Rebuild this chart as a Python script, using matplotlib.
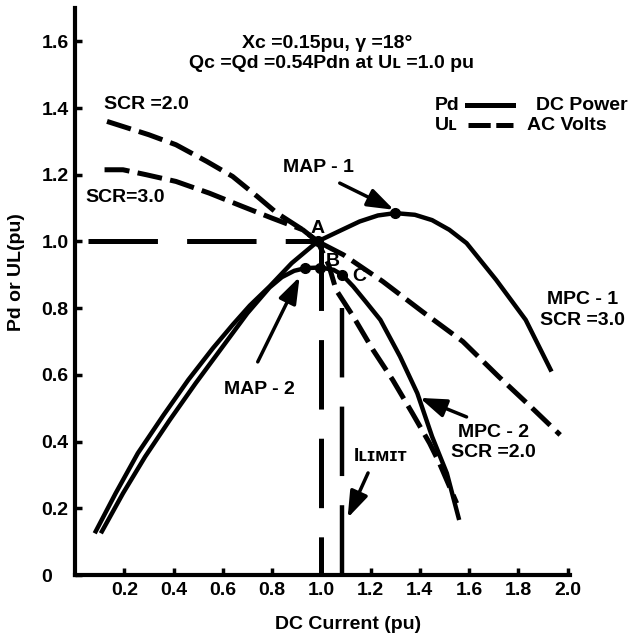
import numpy as np
import matplotlib.pyplot as plt

plt.rcParams['font.family'] = ['Liberation Sans', 'DejaVu Sans']
plt.rcParams['font.weight'] = 'bold'
plt.rcParams['lines.scale_dashes'] = False

'''
DATI LETTI DAL GRAFICO
'''
# DC power Pd, SCR = 3.0 (MPC-1)
pd3_x = [0.08, 0.165, 0.255, 0.36, 0.46, 0.56, 0.64, 0.71, 0.79, 0.88, 0.985,
         1.07, 1.156, 1.23, 1.30, 1.38, 1.45, 1.52, 1.59, 1.71, 1.83, 1.935]
pd3_y = [0.125, 0.245, 0.365, 0.48, 0.585, 0.68, 0.75, 0.808, 0.865, 0.935, 1.0,
         1.03, 1.06, 1.078, 1.085, 1.08, 1.064, 1.035, 0.995, 0.885, 0.765, 0.61]

# DC power Pd, SCR = 2.0 (MPC-2)
pd2_x = [0.105, 0.195, 0.285, 0.385, 0.49, 0.59, 0.70, 0.79, 0.84, 0.89, 0.935,
         0.995, 1.05, 1.085, 1.13, 1.18, 1.24, 1.32, 1.39, 1.45, 1.51, 1.56]
pd2_y = [0.125, 0.245, 0.355, 0.465, 0.575, 0.675, 0.785, 0.862, 0.893, 0.912, 0.92,
         0.922, 0.915, 0.90, 0.865, 0.82, 0.765, 0.655, 0.545, 0.415, 0.305, 0.165]

# AC volts UL, SCR = 2.0
ul2_x = [0.13, 0.30, 0.41, 0.535, 0.64, 0.74, 0.82, 0.925, 0.985,
         1.03, 1.06, 1.13, 1.21, 1.29, 1.37, 1.44, 1.48, 1.55]
ul2_y = [1.36, 1.32, 1.29, 1.24, 1.195, 1.135, 1.085, 1.035, 1.0,
         0.93, 0.855, 0.775, 0.675, 0.585, 0.485, 0.395, 0.335, 0.215]

# AC volts UL, SCR = 3.0
ul3_x = [0.12, 0.195, 0.29, 0.41, 0.545, 0.68, 0.80, 0.925, 0.985,
         1.09, 1.25, 1.41, 1.575, 1.72, 1.85, 1.97]
ul3_y = [1.215, 1.215, 1.20, 1.18, 1.145, 1.105, 1.07, 1.035, 1.0,
         0.96, 0.88, 0.79, 0.70, 0.595, 0.505, 0.42]

# punti di lavoro: MAP-1, A, MAP-2, B, C
pt_x = [1.30, 0.985, 0.935, 0.995, 1.085]
pt_y = [1.085, 1.0, 0.92, 0.92, 0.90]

# riferimenti Id = 1.0 pu, UL = 1.0 pu e limite di corrente
ref_h_x = [0.053, 0.985]
ref_h_y = [1.0, 1.0]
ref_v_x = [1.0, 1.0]
ref_v_y = [1.0, 0.0]
ilim_x = [1.085, 1.085]
ilim_y = [0.80, 0.0]

xticks = [0.2, 0.4, 0.6, 0.8, 1.0, 1.2, 1.4, 1.6, 1.8, 2.0]
yticks = [0, 0.2, 0.4, 0.6, 0.8, 1.0, 1.2, 1.4, 1.6]

FS = 14
SHORT = (18, 6)
LONG = (50, 21)

'''
GRAFICO
'''
fig = plt.figure(figsize=(6.32, 6.4), dpi=100)
ax = fig.add_axes([75 / 632, 65 / 640, 495 / 632, 567 / 640])

ax.plot(pd3_x, pd3_y, color='k', lw=3.2, solid_capstyle='butt')
ax.plot(pd2_x, pd2_y, color='k', lw=3.2, solid_capstyle='butt')
ax.plot(ul2_x, ul2_y, color='k', lw=3.6, dashes=SHORT)
ax.plot(ul3_x, ul3_y, color='k', lw=3.6, dashes=SHORT)
ax.plot(ref_h_x, ref_h_y, color='k', lw=3.6, dashes=LONG)
ax.plot(ref_v_x, ref_v_y, color='k', lw=3.6, dashes=LONG)
ax.plot(ilim_x, ilim_y, color='k', lw=3.2, dashes=LONG)
ax.plot(pt_x, pt_y, 'o', color='k', ms=7)

ax.set_xlim(0, 2.01)
ax.set_ylim(0, 1.70)
for s in ['top', 'right']:
    ax.spines[s].set_visible(False)
for s in ['left', 'bottom']:
    ax.spines[s].set_linewidth(3)

ax.set_xticks(xticks)
ax.set_xticklabels(['%.1f' % v for v in xticks])
ax.set_yticks(yticks)
ax.set_yticklabels(['0'] + ['%.1f' % v for v in yticks[1:]])
ax.tick_params(direction='in', length=5, width=2.5, labelsize=FS)
ax.tick_params(axis='x', pad=5)
ax.tick_params(axis='y', pad=24)
for lab in ax.get_yticklabels():
    lab.set_horizontalalignment('left')

ax.set_xlabel('DC Current (pu)', fontsize=FS, fontweight='bold')
ax.xaxis.label.set_va('center')
ax.xaxis.set_label_coords(0.552, -0.088)
ax.set_ylabel('Pd or UL(pu)', fontsize=FS, fontweight='bold')
ax.yaxis.label.set_va('center')
ax.yaxis.set_label_coords(-0.119, 0.534)

def txt(x, y, s, ha='center'):
    ax.text(x, y, s, fontsize=FS, fontweight='bold', ha=ha, va='center')

txt(1.026, 1.595, 'Xc =0.15pu, \u03b3 =18\u00b0')
txt(1.04, 1.535, 'Qc =Qd =0.54Pdn at U\u029f =1.0 pu')
txt(0.29, 1.41, 'SCR =2.0')
txt(0.205, 1.133, 'SCR=3.0')
txt(0.99, 1.223, 'MAP - 1')
txt(0.75, 0.555, 'MAP - 2')
txt(0.985, 1.04, 'A')
txt(1.046, 0.94, 'B')
txt(1.156, 0.895, 'C')
txt(2.06, 0.825, 'MPC - 1')
txt(2.06, 0.762, 'SCR =3.0')
txt(1.70, 0.426, 'MPC - 2')
txt(1.70, 0.366, 'SCR =2.0')
txt(1.24, 0.354, 'I\u029f\u026a\u1d0d\u026a\u1d1b')

# legenda
txt(1.46, 1.409, 'Pd', ha='left')
txt(1.46, 1.349, 'U\u029f', ha='left')
txt(1.873, 1.409, 'DC Power', ha='left')
txt(1.837, 1.349, 'AC Volts', ha='left')
ax.plot([1.59, 1.78], [1.409, 1.409], color='k', lw=3.6, clip_on=False)
ax.plot([1.595, 1.78], [1.349, 1.349], color='k', lw=3.6, dashes=(16, 4), clip_on=False)

# frecce
arrows = [((1.075, 1.175), (1.295, 1.095)),
          ((0.742, 0.639), (0.912, 0.894)),
          ((1.59, 0.474), (1.40, 0.531)),
          ((1.19, 0.306), (1.107, 0.171))]
for tail, head in arrows:
    ax.annotate('', xy=head, xytext=tail,
                arrowprops=dict(arrowstyle='-|>,head_length=1.0,head_width=0.35',
                                mutation_scale=16, lw=2.5, color='k',
                                shrinkA=0, shrinkB=0))

plt.savefig('out.png', dpi=100)
